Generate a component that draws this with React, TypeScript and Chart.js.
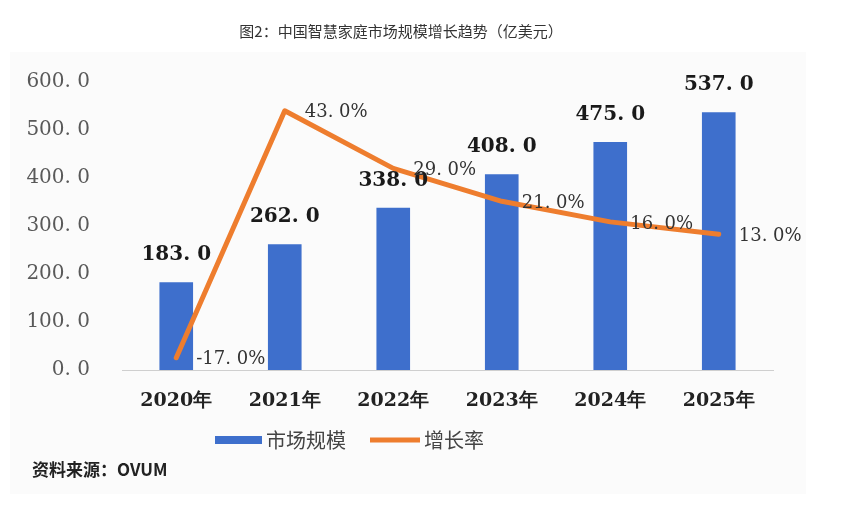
import React, { useEffect, useRef } from "react";
import { Chart, registerables } from "chart.js";

Chart.register(...registerables);

const categories = ["2020年", "2021年", "2022年", "2023年", "2024年", "2025年"];
const marketSize = [183, 262, 338, 408, 475, 537];
const growthRate = [-17, 43, 29, 21, 16, 13];
const yMin = 0;
const yMax = 600;
const yStep = 100;
const rateMin = -20;
const rateMax = 50;

const titleText = "图2：中国智慧家庭市场规模增长趋势（亿美元）";
const sourceText = "资料来源：OVUM";
const barLabel = "市场规模";
const lineLabel = "增长率";

const BLUE = "#3E6FCC";
const ORANGE = "#EE7D2E";

const fmt = (v: number) => v.toFixed(1).replace(".", ". ");

export default function App() {
  const ref = useRef<HTMLCanvasElement | null>(null);

  useEffect(() => {
    if (!ref.current) return;

    const decor = {
      id: "decor",
      beforeDraw(chart: any) {
        const ctx = chart.ctx;
        ctx.save();
        ctx.fillStyle = "#ffffff";
        ctx.fillRect(0, 0, chart.width, chart.height);
        ctx.fillStyle = "#fbfbfb";
        ctx.fillRect(10, 52, 796, 442);
        ctx.restore();
      },
      afterDatasetsDraw(chart: any) {
        const ctx = chart.ctx;
        ctx.save();
        // bar value labels
        const barMeta = chart.getDatasetMeta(1);
        ctx.font = "bold 20px 'DejaVu Serif'";
        ctx.fillStyle = "#1a1a1a";
        ctx.textAlign = "center";
        ctx.textBaseline = "middle";
        barMeta.data.forEach((el: any, i: number) => {
          ctx.fillText(fmt(marketSize[i]), el.x, el.y - 27);
        });
        // line labels
        const lineMeta = chart.getDatasetMeta(0);
        ctx.font = "18px 'DejaVu Serif'";
        ctx.fillStyle = "#333333";
        ctx.textAlign = "left";
        lineMeta.data.forEach((el: any, i: number) => {
          ctx.fillText(fmt(growthRate[i]) + "%", el.x + 20, el.y + 2);
        });
        ctx.restore();
      },
      afterDraw(chart: any) {
        const ctx = chart.ctx;
        ctx.save();
        // title
        ctx.font = "15px 'Noto Sans CJK SC'";
        ctx.fillStyle = "#333333";
        ctx.textAlign = "center";
        ctx.textBaseline = "middle";
        ctx.fillText(titleText, 401, 31);
        // legend
        const ds = chart.data.datasets;
        ctx.fillStyle = ds[1].backgroundColor;
        ctx.fillRect(215, 436, 47, 8);
        ctx.strokeStyle = ds[0].borderColor;
        ctx.lineWidth = 5;
        ctx.beginPath();
        ctx.moveTo(370, 440);
        ctx.lineTo(420, 440);
        ctx.stroke();
        ctx.font = "20px 'Noto Sans CJK SC'";
        ctx.fillStyle = "#444444";
        ctx.textAlign = "left";
        ctx.fillText(ds[1].label, 266, 440);
        ctx.fillText(ds[0].label, 424, 440);
        // source
        ctx.font = "bold 17px 'Noto Sans CJK SC'";
        ctx.fillStyle = "#222222";
        ctx.fillText(sourceText, 32, 470);
        ctx.restore();
      },
    };

    const chart = new Chart(ref.current, {
      type: "bar",
      data: {
        labels: categories,
        datasets: [
          {
            type: "line",
            label: lineLabel,
            data: growthRate,
            yAxisID: "y1",
            borderColor: ORANGE,
            backgroundColor: ORANGE,
            borderWidth: 5,
            pointRadius: 0,
            tension: 0,
            borderJoinStyle: "round",
            borderCapStyle: "round",
            order: 0,
          } as any,
          {
            type: "bar",
            label: barLabel,
            data: marketSize,
            yAxisID: "y",
            backgroundColor: BLUE,
            barPercentage: 0.31,
            categoryPercentage: 1,
            order: 1,
          } as any,
        ],
      },
      options: {
        responsive: false,
        animation: false,
        devicePixelRatio: 1,
        layout: { padding: { left: 0, right: 69, top: 82, bottom: 0 } },
        plugins: {
          legend: { display: false },
          tooltip: { enabled: false },
          title: { display: false },
        },
        scales: {
          x: {
            grid: { display: false, drawTicks: false },
            border: { display: true, color: "#cfcfcf", width: 1 },
            ticks: {
              font: { family: "'DejaVu Serif'", size: 19, weight: "bold" },
              color: "#222222",
              padding: 20,
            },
            afterFit: (s: any) => {
              s.height = 136;
            },
          },
          y: {
            min: yMin,
            max: yMax,
            grid: { display: false, drawTicks: false },
            border: { display: false },
            ticks: {
              stepSize: yStep,
              callback: (v: any) => fmt(Number(v)),
              font: { family: "'DejaVu Serif'", size: 20 },
              color: "#595959",
              padding: 32,
            },
            afterFit: (s: any) => {
              s.width = 122;
            },
          },
          y1: {
            display: false,
            position: "right",
            min: rateMin,
            max: rateMax,
          },
        },
      } as any,
      plugins: [decor],
    });

    return () => chart.destroy();
  }, []);

  return (
    <div style={{ position: "absolute", left: 0, top: 0, width: 842, height: 506 }}>
      <canvas ref={ref} width={842} height={506} />
    </div>
  );
}
